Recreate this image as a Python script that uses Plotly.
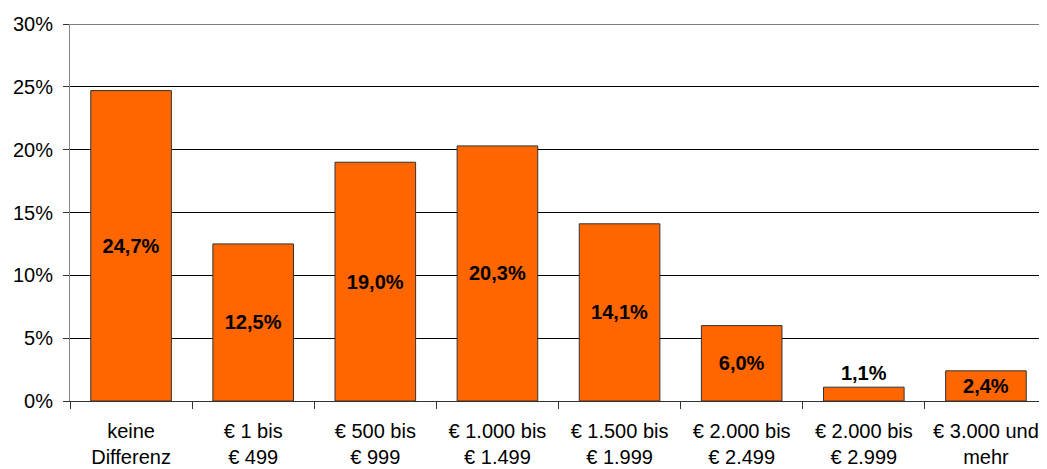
import plotly.graph_objects as go

categories = ["keine<br>Differenz", "€ 1 bis<br>€ 499", "€ 500 bis<br>€ 999", "€ 1.000 bis<br>€ 1.499",
              "€ 1.500 bis<br>€ 1.999", "€ 2.000 bis<br>€ 2.499", "€ 2.000 bis<br>€ 2.999", "€ 3.000 und<br>mehr"]
values = [24.7, 12.5, 19.0, 20.3, 14.1, 6.0, 1.1, 2.4]
labels = [f"{v:.1f}%".replace(".", ",") for v in values]
text_pos = ["inside"] * 6 + ["outside", "inside"]
tick_vals = [0, 5, 10, 15, 20, 25, 30]
tick_text = [f"{v}%" for v in tick_vals]

fig = go.Figure(go.Bar(
    x=categories, y=values, text=labels, textposition=text_pos,
    insidetextanchor="middle", constraintext="none", cliponaxis=False,
    textfont=dict(family="Liberation Sans, Arial", size=20, color="black", weight="bold"),
    marker=dict(color="#FF6600", line=dict(color="#333333", width=1)),
))
# page body adds an 8px offset, so the figure is 8px smaller and margins 8px less
fig.update_layout(
    width=1039, height=461, margin=dict(l=62, r=0, t=16, b=68, autoexpand=False),
    plot_bgcolor="white", paper_bgcolor="white", bargap=0.34, showlegend=False,
    font=dict(family="Liberation Sans, Arial", size=20, color="black"),
)
fig.add_shape(type="line", xref="paper", yref="y", x0=0, x1=1, y0=30, y1=30,
              line=dict(color="black", width=1))
fig.update_xaxes(tickson="boundaries", ticks="outside", ticklen=7, tickcolor="#333333",
                 showline=True, linecolor="#333333", linewidth=1, showgrid=False,
                 automargin=False, ticklabelstandoff=12, tickfont=dict(size=20))
fig.update_yaxes(range=[0, 30], tickvals=tick_vals, ticktext=tick_text, ticks="outside",
                 ticklen=6, tickcolor="#333333", showline=True, linecolor="#888888",
                 linewidth=1, showgrid=True, gridcolor="black", gridwidth=1,
                 zeroline=False, automargin=False, ticklabelstandoff=6, tickfont=dict(size=20))
fig.write_html("out.html")
